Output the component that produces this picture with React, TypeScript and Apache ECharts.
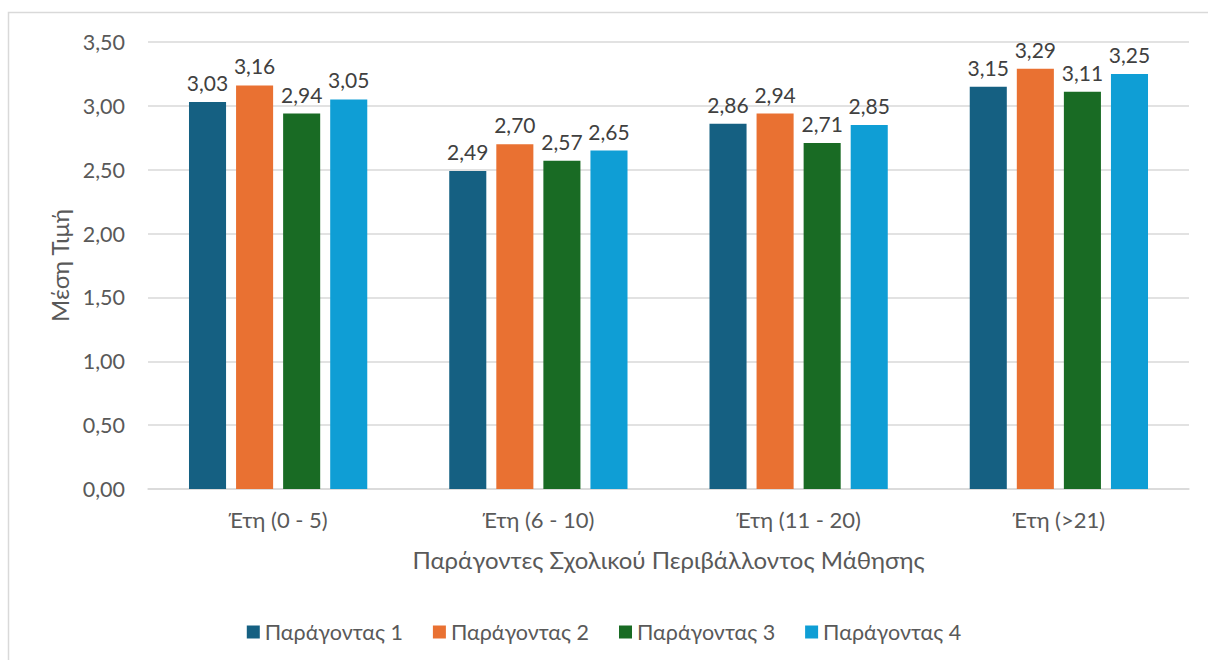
import React, { useEffect, useRef } from "react";
import * as echarts from "echarts";

const categories = ["Έτη (0 - 5)", "Έτη (6 - 10)", "Έτη (11 - 20)", "Έτη (>21)"];
const seriesNames = ["Παράγοντας 1", "Παράγοντας 2", "Παράγοντας 3", "Παράγοντας 4"];
const factor1 = [3.03, 2.49, 2.86, 3.15];
const factor2 = [3.16, 2.70, 2.94, 3.29];
const factor3 = [2.94, 2.57, 2.71, 3.11];
const factor4 = [3.05, 2.65, 2.85, 3.25];
const colors = ["#156082", "#E97132", "#196B24", "#0F9ED5"];
const yAxisTitle = "Μέση Τιμή";
const xAxisTitle = "Παράγοντες Σχολικού Περιβάλλοντος Μάθησης";

const fmt = (v: number) => v.toFixed(2).replace(".", ",");
const FONT = "Lato, 'Noto Sans', sans-serif";

export default function App() {
  const ref = useRef<HTMLDivElement>(null);
  useEffect(() => {
    if (!ref.current) return;
    const chart = echarts.init(ref.current, undefined, { renderer: "svg" });
    const data = [factor1, factor2, factor3, factor4];
    chart.setOption({
      animation: false,
      textStyle: { fontFamily: FONT },
      graphic: [
        {
          type: "rect",
          shape: { x: 8.5, y: 12.5, width: 1400, height: 800 },
          style: { fill: "none", stroke: "#d9d9d9", lineWidth: 1.5 },
          silent: true,
        },
      ],
      grid: { left: 148, right: 19, top: 42, bottom: 171 },
      legend: {
        data: seriesNames,
        top: 616,
        left: "center",
        itemWidth: 13,
        itemHeight: 13,
        itemGap: 30,
        icon: "rect",
        textStyle: { fontSize: 21.5, color: "#595959", fontFamily: FONT },
      },
      xAxis: {
        type: "category",
        data: categories,
        axisLine: { lineStyle: { color: "#d9d9d9", width: 1.5 } },
        axisTick: { show: false },
        axisLabel: { fontSize: 22, color: "#595959", margin: 19, fontFamily: FONT },
        name: xAxisTitle,
        nameLocation: "middle",
        nameGap: 58,
        nameTextStyle: { fontSize: 24, color: "#595959", fontFamily: FONT },
      },
      yAxis: {
        type: "value",
        min: 0,
        max: 3.5,
        interval: 0.5,
        axisLabel: { fontSize: 21.5, color: "#595959", margin: 23, formatter: (v: number) => fmt(v), fontFamily: FONT },
        splitLine: { lineStyle: { color: "#d9d9d9", width: 1.5 } },
        axisLine: { show: false },
        axisTick: { show: false },
        name: yAxisTitle,
        nameLocation: "middle",
        nameGap: 76,
        nameTextStyle: { fontSize: 24, color: "#595959", fontFamily: FONT },
      },
      series: seriesNames.map((name, i) => ({
        name,
        type: "bar",
        data: data[i],
        barGap: "27%",
        barCategoryGap: "31.5%",
        itemStyle: { color: colors[i] },
        label: {
          show: true,
          position: "top",
          distance: 9,
          fontSize: 21,
          color: "#404040",
          fontFamily: FONT,
          formatter: (p: any) => fmt(p.value),
        },
      })),
    });
    return () => chart.dispose();
  }, []);
  return (
    <div
      ref={ref}
      style={{ position: "fixed", left: 0, top: 0, width: 1208, height: 660, background: "#fff" }}
    />
  );
}
